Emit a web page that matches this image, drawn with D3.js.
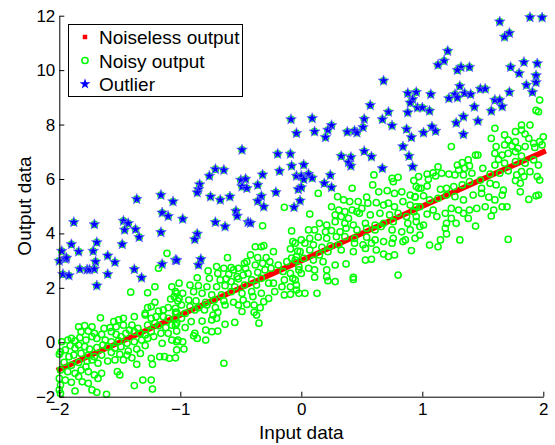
<!DOCTYPE html>
<html>
<head>
<meta charset="utf-8">
<script src="https://cdn.jsdelivr.net/npm/d3@7"></script>
<style>
body { margin: 0; background: #fff; }
text { font-family: "Liberation Sans", Arial, Helvetica, sans-serif; fill: #000; }
</style>
</head>
<body>
<svg id="chart" width="555" height="445"></svg>
<script>
// Tick values
var xTicks = [-2, -1, 0, 1, 2];
var yTicks = [-2, 0, 2, 4, 6, 8, 10, 12];

// Noiseless output (the red band)
var noiselessX = [-2, -1, 0, 1, 2];
var noiselessY = [-1, 1, 3, 5, 7];

// Noisy output, points that are not outliers [x, y]
var noisyPoints = [
  [-1.41,1.84],[-1.21,2.04],[-1.07,2.04],[-1.03,1.80],[-1.05,1.68],[-1.08,1.59],[-1.02,1.52],
  [-1.21,1.47],[-1.24,1.31],[-1.27,1.27],[-1.14,1.19],[-1.18,1.15],[-1.29,1.06],[-1.10,1.27],[-1.04,1.25],[-1.03,1.10],[-1.10,0.88],
  [-1.66,0.90],[-1.55,0.76],[-1.47,0.88],[-1.51,0.82],[-1.38,0.94],[-1.29,1.00],[-1.24,0.88],[-1.20,0.94],[-1.14,0.94],[-1.04,0.88],[-1.21,0.70],
  [-1.84,0.57],[-1.79,0.61],[-1.73,0.57],[-1.63,0.51],[-1.58,0.54],[-1.53,0.57],[-1.47,0.63],[-1.40,0.63],[-1.35,0.51],[-1.27,0.63],[-1.18,0.61],[-1.12,0.54],[-1.07,0.63],[-1.03,0.70],
  [-1.82,0.39],[-1.76,0.41],[-1.71,0.33],[-1.65,0.29],[-1.57,0.39],[-1.53,0.29],[-1.49,0.21],[-1.45,0.33],[-1.42,0.45],[-1.38,0.39],[-1.33,0.33],[-1.29,0.27],[-1.24,0.39],[-1.22,0.21],[-1.16,0.33],[-1.10,0.33],[-1.03,0.41],
  [-1.98,0.02],[-1.93,0.08],[-1.90,0.14],[-1.87,0.05],[-1.83,0.17],[-1.78,0.08],[-1.73,0.21],[-1.69,0.14],[-1.62,0.08],[-1.57,0.02],[-1.51,0.05],[-1.44,-0.04],[-1.38,0.02],[-1.32,0.08],[-1.27,0.14],[-1.15,-0.04],[-1.07,0.08],[-1.03,0.02],
  [-1.99,-0.35],[-1.95,-0.28],[-1.91,-0.12],[-1.87,-0.22],[-1.84,-0.10],[-1.79,-0.16],[-1.75,-0.25],[-1.69,-0.20],[-1.64,-0.10],[-1.60,-0.16],[-1.54,-0.22],[-1.49,-0.16],[-1.43,-0.32],[-1.36,-0.25],[-1.29,-0.12],
  [-2.00,-0.44],[-1.92,-0.53],[-1.88,-0.47],[-1.82,-0.41],[-1.76,-0.47],[-1.71,-0.53],[-1.65,-0.47],[-1.57,-0.37],[-1.50,-0.44],[-1.44,-0.47],[-1.40,-0.57],[-1.33,-0.41],[-1.24,-0.59],[-1.17,-0.53],[-1.13,-0.53],[-1.09,-0.59],[-1.04,-0.57],
  [-1.96,-0.74],[-1.90,-0.84],[-1.84,-0.74],[-1.77,-0.69],[-1.73,-0.65],[-1.68,-0.77],[-1.60,-0.69],[-1.54,-0.65],[-1.47,-0.65],[-1.36,-0.81],[-1.23,-0.81],[-1.78,-0.90],
  [-1.99,-1.02],[-1.93,-1.08],[-1.87,-1.14],[-1.82,-1.02],[-1.76,-1.08],[-1.71,-1.20],[-1.65,-1.14],[-1.52,-1.08],[-1.50,-1.20],
  [-2.00,-1.33],[-1.95,-1.39],[-1.90,-1.47],[-1.84,-1.26],[-1.81,-1.45],[-1.76,-1.51],[-1.68,-1.33],[-1.31,-1.39],[-1.24,-1.39],
  [-1.99,-1.57],[-2.00,-1.75],[-1.99,-1.88],[-1.87,-1.79],[-1.73,-1.75],[-1.69,-1.84],[-1.61,-1.91],[-1.38,-1.59],[-1.23,-1.72],
  [-1.11,3.27],[-1.18,2.72],[-1.27,1.82],
  [-0.32,4.28],[-0.08,4.09],[-0.07,3.70],[-0.31,3.55],[-0.33,3.51],[-0.38,3.51],[-0.23,3.33],[-0.09,3.43],[-0.03,3.35],
  [-0.42,3.21],[-0.36,3.11],[-0.29,3.11],[-0.61,3.11],[-0.45,2.96],[-0.47,2.90],
  [-0.70,2.78],[-0.64,2.72],[-0.58,2.74],[-0.56,2.66],[-0.52,2.72],[-0.46,2.72],[-0.38,2.84],[-0.32,2.90],[-0.26,2.96],[-0.19,2.84],[-0.12,2.96],[-0.08,3.09],[-0.04,3.15],
  [-0.77,2.62],[-0.69,2.53],[-0.60,2.50],[-0.53,2.41],[-0.48,2.47],[-0.44,2.53],[-0.36,2.57],[-0.30,2.66],[-0.25,2.72],[-0.15,2.60],[-0.09,2.53],[-0.02,2.66],
  [-0.86,2.37],[-0.76,2.35],[-0.67,2.29],[-0.62,2.33],[-0.58,2.23],[-0.52,2.33],[-0.41,2.29],[-0.33,2.35],[-0.23,2.17],[-0.14,2.29],[-0.07,2.35],
  [-1.01,2.17],[-0.92,2.10],[-0.85,2.08],[-0.78,2.04],[-0.70,2.04],[-0.63,2.08],[-0.55,2.04],[-0.47,2.10],[-0.37,2.10],[-0.27,2.17],[-0.16,2.04],[-0.09,2.04],[-0.04,2.10],
  [-1.04,1.86],[-0.98,1.80],[-0.89,1.86],[-0.82,1.80],[-0.74,1.74],[-0.66,1.74],[-0.58,1.86],[-0.49,1.80],[-0.41,1.86],[-0.33,1.80],[-0.22,1.86],[-0.14,1.74],[-0.09,1.76],[-0.02,1.80],
  [-1.01,1.61],[-0.93,1.55],[-0.87,1.52],[-0.79,1.47],[-0.72,1.55],[-0.64,1.52],[-0.56,1.47],[-0.48,1.55],[-0.40,1.68],[-0.31,1.49],[-0.27,1.61],
  [-0.99,1.37],[-0.92,1.31],[-0.85,1.27],[-0.78,1.37],[-0.71,1.27],[-0.63,1.37],[-0.52,1.37],[-0.45,1.39],[-0.39,1.37],[-0.34,1.27],
  [-1.04,1.10],[-0.96,1.06],[-0.88,1.19],[-0.80,1.19],[-0.73,1.00],[-0.69,1.10],[-0.49,1.13],[-0.37,1.00],[-0.39,1.10],
  [-0.99,0.88],[-0.91,0.76],[-0.82,0.78],[-0.74,0.82],[-0.70,0.88],[-0.63,0.66],[-0.55,0.73],[-0.35,0.70],
  [-1.04,0.63],[-0.96,0.54],[-0.88,0.33],[-0.79,0.45],[-0.74,0.39],[-0.69,0.41],[-0.89,0.24],
  [-1.02,0.08],[-0.98,0.02],[-0.86,0.14],[-0.79,0.08],[-1.03,-0.28],[-0.97,-0.25],[-0.64,-0.77],
  [-0.14,4.96],
  [0.60,6.15],[0.75,6.02],[0.80,6.06],[0.76,5.90],[0.93,5.94],[0.97,6.09],[0.59,5.78],[0.42,5.66],
  [0.14,5.47],[0.30,5.35],[0.35,5.23],[0.40,5.17],[0.47,5.17],[0.54,5.33],[0.64,5.53],[0.71,5.57],[0.77,5.47],[0.83,5.53],[0.90,5.41],[0.94,5.35],[0.97,5.66],
  [0.25,4.98],[0.31,4.86],[0.36,4.80],[0.42,4.86],[0.46,4.80],[0.50,4.92],[0.55,5.11],[0.62,5.13],[0.68,5.04],[0.72,5.11],[0.77,4.98],[0.84,5.17],[0.90,5.04],[0.95,4.98],
  [0.07,4.71],[0.28,4.68],[0.33,4.62],[0.39,4.55],[0.48,4.74],[0.57,4.68],[0.65,4.74],[0.73,4.68],[0.80,4.74],[0.87,4.62],[0.93,4.80],
  [0.15,4.37],[0.21,4.31],[0.28,4.43],[0.36,4.37],[0.43,4.31],[0.53,4.37],[0.61,4.31],[0.68,4.37],[0.76,4.43],[0.88,4.37],[0.95,4.43],
  [0.06,4.13],[0.11,4.13],[0.20,4.06],[0.25,4.10],[0.32,4.06],[0.37,4.19],[0.46,4.13],[0.54,4.19],[0.61,4.13],[0.66,4.25],[0.75,4.13],[0.83,4.06],[0.90,4.13],
  [0.00,3.76],[0.07,3.82],[0.14,3.86],[0.21,3.82],[0.29,3.88],[0.36,3.88],[0.44,3.82],[0.54,3.86],[0.61,3.76],[0.68,3.70],[0.76,3.82],[0.86,3.76],[0.94,3.82],
  [-0.05,3.64],[0.03,3.64],[0.10,3.58],[0.17,3.49],[0.24,3.54],[0.31,3.58],[0.44,3.64],[0.51,3.58],[0.58,3.64],[0.75,3.64],[0.84,3.70],
  [-0.01,3.33],[0.07,3.39],[0.15,3.21],[0.22,3.33],[0.33,3.39],[0.43,3.33],[0.53,3.45],[0.62,3.39],[0.68,3.24],[0.72,3.15],[0.77,3.21],[0.91,3.37],
  [-0.05,3.02],[0.02,3.08],[0.10,3.02],[0.18,2.96],[0.28,2.84],[0.37,2.88],[0.53,3.02],[0.58,3.05],
  [-0.02,2.78],[0.06,2.72],[0.11,2.66],[0.21,2.66],[0.00,2.53],[0.11,2.39],[0.21,2.41],[0.43,2.39],[0.43,2.31],[0.22,2.26],[0.28,2.23],[0.80,2.47],
  [-0.05,2.29],[-0.04,1.92],[0.03,1.80],[0.13,1.80],
  [1.96,8.47],[1.60,7.86],[1.82,7.98],[1.89,7.98],[1.77,7.74],[1.82,7.80],[1.85,7.65],[1.68,7.62],[1.57,7.49],[1.71,7.43],[1.77,7.37],[1.88,7.49],[2.00,7.55],[1.97,7.37],[1.92,7.31],
  [1.24,7.19],[1.61,7.19],[1.68,7.25],[1.74,7.21],[1.79,7.13],[1.85,7.19],[1.93,7.16],[1.99,7.25],
  [1.44,6.88],[1.46,6.88],[1.60,6.94],[1.66,6.88],[1.71,6.94],[1.77,7.00],[1.82,6.84],[1.63,6.72],
  [1.38,6.70],[1.33,6.60],[1.29,6.51],[1.13,6.45],[1.30,6.33],[1.35,6.39],[1.39,6.48],[1.50,6.39],[1.60,6.51],[1.68,6.58],[1.77,6.64],[1.85,6.58],[1.92,6.70],[1.96,6.51],
  [1.04,6.18],[1.09,6.23],[1.16,6.21],[1.22,6.18],[1.05,5.99],[1.11,6.11],[1.27,6.15],[1.34,6.15],[1.41,6.21],[1.56,6.18],[1.64,6.21],[1.71,6.30],[1.78,6.15],[1.82,6.27],[1.89,6.27],[1.95,6.09],[1.97,5.96],
  [0.95,5.72],[0.99,5.66],[1.04,5.74],[1.15,5.62],[1.20,5.66],[1.26,5.72],[1.33,5.78],[1.39,5.90],[1.48,5.96],[1.49,5.66],[1.56,5.84],[1.61,5.78],[1.67,5.59],[1.77,5.94],[1.81,5.84],[1.84,6.09],
  [0.94,5.33],[1.01,5.38],[1.06,5.23],[1.13,5.29],[1.20,5.41],[1.27,5.35],[1.34,5.23],[1.42,5.41],[1.49,5.47],[1.55,5.33],[1.60,5.23],[1.66,5.41],[1.81,5.53],[1.88,5.25],[1.94,5.38],[1.96,5.41],
  [0.98,4.98],[1.04,4.71],[1.09,4.86],[1.12,4.62],[1.19,4.74],[1.24,4.92],[1.30,4.86],[1.34,4.74],[1.39,4.86],[1.45,4.92],[1.52,4.98],[1.59,4.86],[1.66,4.98],[1.70,4.98],
  [0.95,4.62],[0.98,4.25],[1.01,4.31],[1.20,4.37],[1.28,4.37],[1.24,4.55],[1.38,4.55],[1.44,4.27],[1.57,4.64],
  [1.19,4.19],[1.20,3.98],[0.98,3.94],[1.15,3.76],[1.06,3.57],[1.13,3.51],[1.31,3.76],[1.71,3.78],
  [1.97,8.90],[1.94,8.52]
];

// Outliers [x, y] (also part of the noisy output)
var outlierPoints = [
  [-1.36,5.26],[-1.16,5.41],[-1.06,5.17],[-1.88,4.41],[-1.71,4.33],[-1.47,4.46],[-1.43,4.37],[-1.46,4.13],[-1.37,4.15],[-1.34,3.86],
  [-1.15,4.76],[-1.10,4.63],[-1.16,4.04],[-1.90,3.60],[-1.98,3.35],[-1.84,3.33],[-1.69,3.67],[-1.72,3.35],[-1.48,3.60],[-1.60,3.18],
  [-1.54,2.94],[-1.70,2.96],[-2.00,2.99],[-1.95,3.06],[-1.94,3.10],[-1.83,2.69],[-1.77,2.67],[-1.75,2.67],[-1.71,2.69],[-1.97,2.50],
  [-1.92,2.45],[-1.60,2.50],[-1.69,2.08],[-1.38,2.68],[-1.32,2.37],[-1.15,2.87],[-1.04,3.02],[-1.03,3.01],[-0.98,4.53],
  [-0.085,8.19],[-0.04,7.68],[-0.49,7.07],[-0.195,6.92],[-0.09,6.92],[-0.08,6.48],[-0.18,6.29],[-0.04,6.11],[-0.32,6.16],[-0.71,6.36],
  [-0.64,6.33],[-0.76,6.11],[-0.84,5.80],[-0.85,5.62],[-0.86,5.50],[-0.50,5.96],[-0.46,6.00],[-0.49,5.72],[-0.45,5.66],[-0.36,5.78],
  [-0.75,5.35],[-0.67,5.23],[-0.59,5.35],[-0.33,5.37],[-0.36,5.19],[-0.31,4.98],[-0.21,5.51],[-0.06,4.96],[-0.025,5.62],[-0.54,4.82],
  [-0.53,4.64],[-0.71,4.41],[-0.63,4.25],[-0.44,4.41],[-0.42,4.38],[-0.86,3.98],[-0.88,3.78],[-0.83,3.05],[-0.85,2.84],
  [0.68,9.61],[0.88,9.15],[0.95,9.19],[0.92,8.93],[0.90,8.80],[0.57,8.71],[0.72,8.46],[0.88,8.44],[0.96,8.62],[0.67,8.19],
  [0.75,7.96],[0.52,8.20],[0.09,8.23],[0.11,7.74],[0.22,7.80],[0.25,7.97],[0.20,7.53],[0.38,7.73],[0.44,7.77],[0.46,7.70],
  [0.51,7.90],[0.87,7.83],[0.91,7.53],[0.84,7.19],[0.89,6.84],[0.92,6.45],[0.52,7.02],[0.58,6.82],[0.33,6.84],[0.41,6.80],
  [0.39,6.61],[0.41,6.48],[0.67,6.39],[0.02,6.52],[0.00,6.11],[0.06,6.18],[0.02,5.99],[0.09,6.04],[0.24,6.14],[0.19,5.84],
  [0.25,5.69],[0.00,5.69],[-0.01,5.20],
  [1.64,11.78],[1.89,11.94],[1.99,11.93],[1.72,11.36],[1.68,11.22],[1.21,10.70],[1.18,10.34],[1.13,10.19],[1.32,10.11],[1.39,10.11],
  [1.29,10.00],[1.73,10.11],[1.84,10.29],[1.95,10.24],[1.80,9.88],[1.94,9.80],[1.94,9.55],[1.86,9.45],[1.91,9.19],[1.72,9.19],
  [1.07,9.11],[1.31,9.41],[1.27,9.11],[1.29,8.99],[1.35,9.15],[1.40,9.11],[1.48,9.31],[1.52,9.31],[1.22,8.96],[1.60,8.90],
  [1.64,8.90],[1.66,8.66],[1.57,8.50],[1.43,8.65],[1.46,8.13],[1.34,8.29],[1.28,8.06],[1.00,8.62],[1.06,8.50],[1.08,7.92],
  [1.11,7.76],[1.01,7.70],[1.34,7.64]
];

var legendLabels = ["Noiseless output", "Noisy output", "Outlier"];

var svg = d3.select("#chart");
var margin = {top: 15.7, right: 11.7, bottom: 48.3, left: 59.3};
var width = 555 - margin.left - margin.right;
var height = 445 - margin.top - margin.bottom;

var x = d3.scaleLinear().domain([-2, 2]).range([margin.left, margin.left + width]);
var y = d3.scaleLinear().domain([-2, 12]).range([margin.top + height, margin.top]);

var green = "#00ff00", blue = "#0000ff", red = "#ff0000";
var star = d3.symbol().type(d3.symbolStar).size(36);

// noiseless output first, like the original plot order
var band = d3.line()
  .x(function(d, i) { return x(noiselessX[i]); })
  .y(function(d, i) { return y(noiselessY[i]); });
svg.append("path")
  .attr("d", band(noiselessX))
  .style("fill", "none")
  .style("stroke", red)
  .style("stroke-width", 5.5)
  .style("stroke-linecap", "square");

// noisy output: normal points and outliers both get a green ring
svg.append("g").selectAll("circle")
  .data(noisyPoints.concat(outlierPoints))
  .enter().append("circle")
  .attr("cx", function(d) { return x(d[0]); })
  .attr("cy", function(d) { return y(d[1]); })
  .attr("r", 3.1)
  .style("fill", "none")
  .style("stroke", green)
  .style("stroke-width", 1.5);

svg.append("g").selectAll("path")
  .data(outlierPoints)
  .enter().append("path")
  .attr("d", star)
  .attr("transform", function(d) { return "translate(" + x(d[0]) + "," + y(d[1]) + ")"; })
  .style("fill", blue)
  .style("stroke", "#7070ff")
  .style("stroke-width", 0.7);

// axes, ticks point inward
var fmt = d3.format("d");
var xAxis = svg.append("g")
  .attr("transform", "translate(0," + (margin.top + height) + ")")
  .call(d3.axisBottom(x).tickValues(xTicks).tickFormat(fmt).tickSize(-5).tickSizeOuter(0).tickPadding(6));
var yAxis = svg.append("g")
  .attr("transform", "translate(" + margin.left + ",0)")
  .call(d3.axisLeft(y).tickValues(yTicks).tickFormat(fmt).tickSize(-5).tickSizeOuter(0).tickPadding(4));

[xAxis, yAxis].forEach(function(a) {
  a.selectAll("text").style("font-size", "17px").style("fill", "#000")
    .style("font-family", "'Liberation Sans', Arial, sans-serif");
  a.selectAll("line, path").style("stroke", "#000");
});

svg.append("text")
  .attr("x", x(0))
  .attr("y", 438.5)
  .attr("text-anchor", "middle")
  .style("font-size", "19px")
  .text("Input data");

svg.append("text")
  .attr("transform", "translate(31,206) rotate(-90)")
  .attr("text-anchor", "middle")
  .style("font-size", "19px")
  .text("Output data");

// legend
var legend = svg.append("g");
legend.append("rect")
  .attr("x", 68.5).attr("y", 24.5)
  .attr("width", 174).attr("height", 72)
  .style("fill", "#fff")
  .style("stroke", "#000")
  .style("stroke-width", 1);

var rowY = [37, 60.5, 84];
legend.append("path")
  .attr("d", d3.symbol().type(d3.symbolSquare).size(20)())
  .attr("transform", "translate(85," + rowY[0] + ")")
  .style("fill", red);
legend.append("circle")
  .attr("cx", 85).attr("cy", rowY[1]).attr("r", 3.1)
  .style("fill", "none").style("stroke", green).style("stroke-width", 1.5);
legend.append("path")
  .attr("d", star())
  .attr("transform", "translate(85," + rowY[2] + ")")
  .style("fill", blue);

legend.selectAll("text.lab")
  .data(legendLabels)
  .enter().append("text")
  .attr("class", "lab")
  .attr("x", 99)
  .attr("y", function(d, i) { return rowY[i] + 7.3; })
  .style("font-size", "19px")
  .text(function(d) { return d; });
</script>
</body>
</html>
